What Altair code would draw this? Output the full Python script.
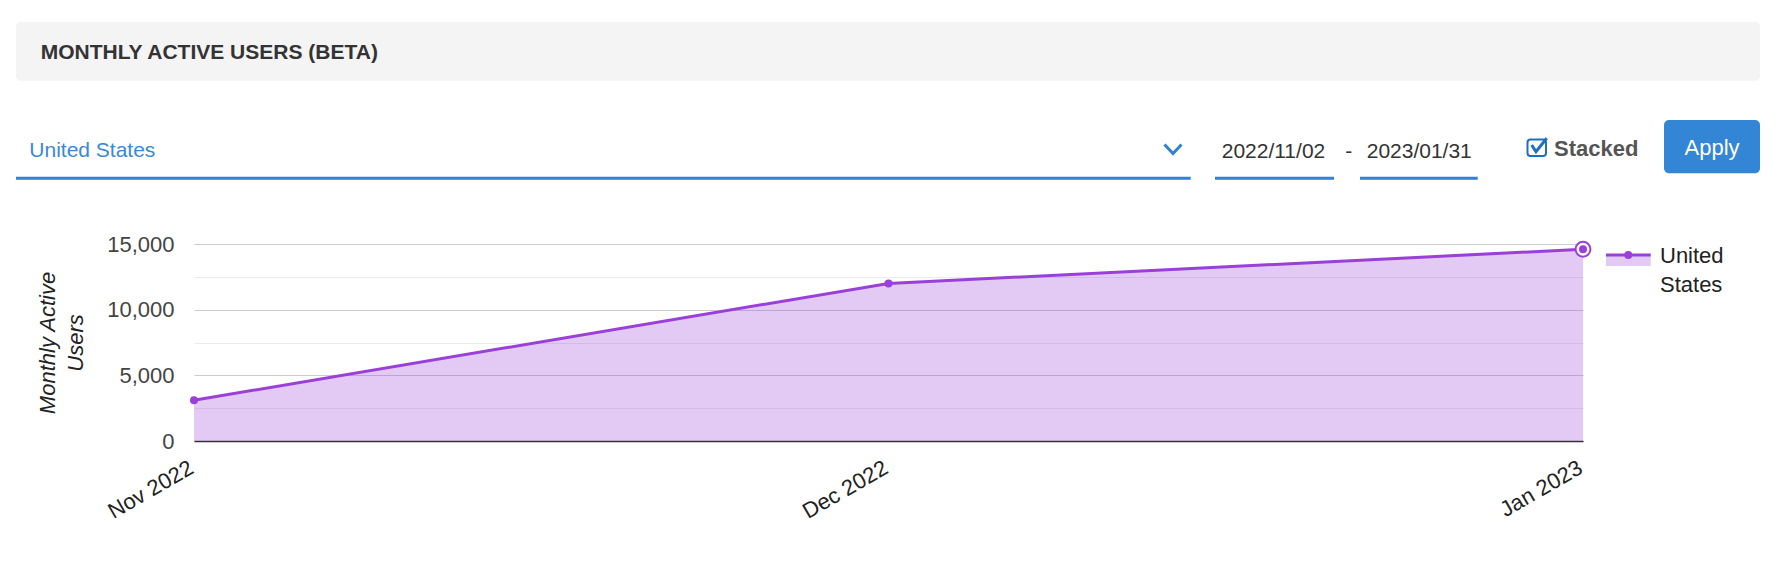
import altair as alt
import pandas as pd

# ---------------- data ----------------
months = ["Nov 2022", "Dec 2022", "Jan 2023"]
users = [3100, 12000, 14600]
series_name = "United States"
y_ticks = [0, 2500, 5000, 7500, 10000, 12500, 15000]
y_title = ["Monthly Active", "Users"]

panel_title = "MONTHLY ACTIVE USERS (BETA)"
country_choice = "United States"
date_from = "2022/11/02"
date_sep = "-"
date_to = "2023/01/31"
stacked_label = "Stacked"
button_label = "Apply"

# ---------------- style ----------------
PURPLE = "#9b3fd9"
BLUE = "#3182d1"
FONT = "Liberation Sans"
W, H = 1389, 197
PAD = {"left": 186, "top": 236, "right": 180, "bottom": 100}

df = pd.DataFrame({"month": months, "users": users,
                   "series": [series_name] * len(months)})

x_enc = alt.X(
    "month:O", sort=months,
    scale=alt.Scale(type="point", padding=0),
    axis=alt.Axis(title=None, labelAngle=-30, labelFontSize=22, labelColor="#222222",
                  labelPadding=16, labelOffset=-8, ticks=False, tickSize=0,
                  domainColor="#333333", domainWidth=1.5, grid=False, labelFont=FONT,
                  labelAlign="right", labelBaseline="top"),
)
y_enc = alt.Y(
    "users:Q",
    scale=alt.Scale(domain=[0, 15000], nice=False, zero=True),
    axis=alt.Axis(
        values=y_ticks,
        labelExpr="datum.value % 5000 === 0 ? format(datum.value, ',') : ''",
        labelFontSize=22, labelColor="#444444", labelPadding=20, labelFont=FONT,
        ticks=False, tickSize=0, domain=False,
        grid=True,
        gridColor={"condition": {"test": "datum.value % 5000 === 0", "value": "#cccccc"},
                   "value": "#ebebeb"},
        gridWidth=1.2,
        title=y_title, titleFont=FONT, titleFontSize=22, titleFontStyle="italic",
        titleFontWeight="normal", titleColor="#222222", titleAngle=-90,
        titleAlign="center", titleBaseline="alphabetic", titleLineHeight=28,
        titleX=-140, titleY=98.5,
    ),
)

base = alt.Chart(df).encode(x=x_enc, y=y_enc)
area = base.mark_area(color=PURPLE, opacity=0.28)
line = base.mark_line(color=PURPLE, strokeWidth=3)
ring = base.transform_filter(alt.datum.month == months[-1]).mark_circle(
    fill="white", stroke=PURPLE, strokeWidth=2, size=220, opacity=1)
dots = base.mark_circle(color=PURPLE, size=64, opacity=1)

one = pd.DataFrame({"k": [0]})


def rect(x, x2, y, y2, **kw):
    return alt.Chart(one).mark_rect(**kw).encode(
        x=alt.value(x), x2=alt.value(x2), y=alt.value(y), y2=alt.value(y2))


def text(t, x, y, **kw):
    return alt.Chart(one).mark_text(text=t, font=FONT, baseline="alphabetic", **kw).encode(
        x=alt.value(x), y=alt.value(y))


decor = [
    # header panel
    rect(-178, 1566, -222, -163.3, fill="#f4f4f4", cornerRadius=5),
    text(panel_title, -153.3, -184.7, align="left", fontSize=21, fontWeight="bold", color="#333333"),
    # country dropdown
    text(country_choice, -164.7, -86.7, align="left", fontSize=21, color="#3a89d5"),
    rect(-178, 996.7, -67.3, -64.3, fill=BLUE),
    alt.Chart(one).mark_point(shape="M-0.85,-0.45L0,0.45L0.85,-0.45", filled=False,
                              stroke=BLUE, strokeWidth=3, size=400, opacity=1).encode(
        x=alt.value(979), y=alt.value(-95)),
    # dates
    text(date_from, 1027.7, -86.3, align="left", fontSize=21, color="#333333"),
    rect(1021, 1140, -67.3, -64.3, fill=BLUE),
    text(date_sep, 1154.7, -86.3, align="center", fontSize=21, color="#333333"),
    text(date_to, 1172.7, -86.3, align="left", fontSize=21, color="#333333"),
    rect(1166, 1283.7, -67.3, -64.3, fill=BLUE),
    # stacked checkbox
    rect(1333.5, 1352, -104.5, -88, fill="white", stroke="#1f6fbf", strokeWidth=2, cornerRadius=3),
    alt.Chart(one).mark_point(shape="M-0.94,0L-0.4,0.84L0.94,-0.84", filled=False,
                              stroke="#1f6fbf", strokeWidth=3, size=256, opacity=1).encode(
        x=alt.value(1345.2), y=alt.value(-99)),
    text(stacked_label, 1360, -88.3, align="left", fontSize=22, fontWeight="bold", color="#555555"),
    # apply button
    rect(1470, 1566, -124, -70.7, fill="#3385d6", cornerRadius=5),
    text(button_label, 1518, -89, align="center", fontSize=22, color="white"),
]

legend_df = pd.DataFrame({"series": [series_name]})
legend = [
    rect(1412, 1456.7, 11, 22, fill=PURPLE, opacity=0.28),
    alt.Chart(legend_df).mark_rule(color=PURPLE, strokeWidth=3).encode(
        x=alt.value(1412), x2=alt.value(1456.7), y=alt.value(11)),
    alt.Chart(legend_df).mark_circle(color=PURPLE, size=64, opacity=1).encode(
        x=alt.value(1434.3), y=alt.value(11)),
    alt.Chart(legend_df).mark_text(font=FONT, fontSize=22, color="#222222", align="left",
                                   baseline="alphabetic", lineBreak=" ", lineHeight=28.4).encode(
        text="series:N", x=alt.value(1466), y=alt.value(19.3)),
]

chart = alt.layer(area, line, ring, dots, *decor, *legend).properties(
    width=W, height=H, padding=PAD,
    autosize=alt.AutoSizeParams(type="none"),
    background="white",
).configure(font=FONT).configure_view(stroke=None)

chart.save("out.html", embed_options={"renderer": "svg", "actions": False})
